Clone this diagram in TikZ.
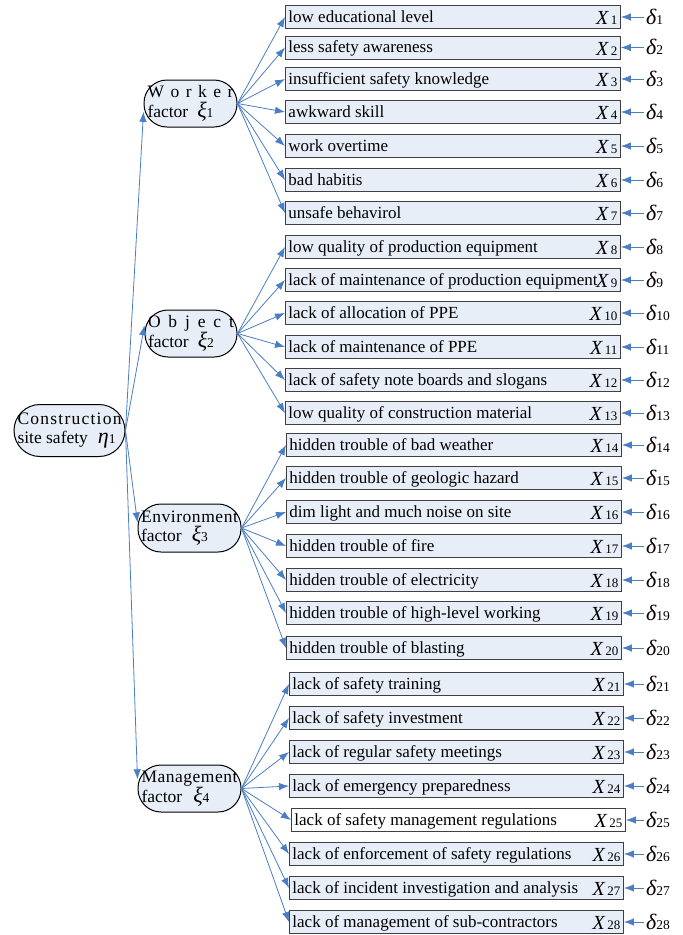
\documentclass[tikz,border=0pt]{standalone}
\usepackage{fontspec}
\setmainfont{Liberation Serif}
\usetikzlibrary{arrows.meta,calc}
\definecolor{boxfill}{HTML}{E8EEF8}
\definecolor{arr}{HTML}{4A7EC4}
\newcommand\xlab[1]{\raisebox{-2.5pt}{{\fontsize{20}{20}\selectfont\itshape X}\hspace{2.5pt}{\fontsize{13}{13}\selectfont #1}}}
\newcommand\dlab[1]{{\fontsize{22}{22}\selectfont\itshape δ}{\fontsize{13.5}{13.5}\selectfont #1}}
\newcommand\gsym[2]{{\fontsize{22}{22}\selectfont\itshape #1}{\fontsize{13.5}{13.5}\selectfont #2}}
\tikzset{
 itembox/.style={draw=black!75, line width=0.9pt, fill=boxfill, rectangle, minimum height=23pt, inner xsep=3pt, inner ysep=0pt, text height=11pt, text depth=1pt, anchor=west, font=\fontsize{17}{18}\selectfont},
 factorbox/.style={draw=black, line width=1pt, fill=boxfill, rectangle, rounded corners=23pt, inner sep=0pt, align=left, font=\fontsize{17.5}{19.5}\selectfont},
 link/.style={draw=arr, line width=0.8pt, -{Latex[length=10pt,width=7.5pt]}},
 dnode/.style={anchor=base west, inner sep=0pt},
}
\begin{document}
\begin{tikzpicture}[x=1pt,y=-1pt]
\useasboundingbox (0,0) rectangle (683,935);
% root and factors
\node[factorbox, minimum width=111pt, minimum height=52pt, rounded corners=26pt] (root) at (69.5,430.5)
 {\makebox[104pt]{C\hfill o\hfill n\hfill s\hfill t\hfill r\hfill u\hfill c\hfill t\hfill i\hfill o\hfill n}\\site safety\hspace{10pt}\gsym{η}{1}};
\node[factorbox, minimum width=93pt, minimum height=47pt] (worker) at (190.5,103.5)
 {\makebox[86pt][s]{W o r k e r}\\factor\hspace{9pt}\gsym{ξ}{1}};
\node[factorbox, minimum width=92pt, minimum height=47pt] (object) at (191,333.5)
 {\makebox[86pt][s]{O b j e c t}\\factor\hspace{9pt}\gsym{ξ}{2}};
\node[factorbox, minimum width=103pt, minimum height=48pt] (env) at (189.5,528)
 {\makebox[97pt]{E\hfill n\hfill v\hfill i\hfill r\hfill o\hfill n\hfill m\hfill e\hfill n\hfill t}\\factor\hspace{10pt}\gsym{ξ}{3}};
\node[factorbox, minimum width=103pt, minimum height=47pt] (mgmt) at (189.5,788.5)
 {\makebox[96pt]{M\hfill a\hfill n\hfill a\hfill g\hfill e\hfill m\hfill e\hfill n\hfill t}\\factor\hspace{11pt}\gsym{ξ}{4}};
\draw[link] (root.east) -- (worker.190);
\draw[link] (root.east) -- (object.170);
\draw[link] (root.east) -- (env.174);
\draw[link] (root.east) -- (mgmt.170);
% items
\foreach \i/\y/\t in {1/17/low educational level, 2/47.5/less safety awareness, 3/79/insufficient safety knowledge, 4/112/awkward skill, 5/146/work overtime, 6/180/bad habitis, 7/213/unsafe behavirol}{
 \node[itembox, minimum width=335pt] (b\i) at (285,\y) {\makebox[329pt]{\rlap{\t}\hfill\xlab{\i}}};
 \draw[link] (worker.east) -- (b\i.west);
}
\foreach \i/\y/\t in {8/247/low quality of production equipment, 9/280/lack of maintenance of production equipment, 10/313/lack of allocation of PPE, 11/347/lack of maintenance of PPE, 12/380/lack of safety note boards and slogans, 13/413/low quality of construction material}{
 \node[itembox, minimum width=335pt] (b\i) at (285,\y) {\makebox[329pt]{\rlap{\t}\hfill\xlab{\i}}};
 \draw[link] (object.east) -- (b\i.west);
}
\foreach \i/\y/\t in {14/445/hidden trouble of bad weather, 15/478/hidden trouble of geologic hazard, 16/512/dim light and much noise on site, 17/546/hidden trouble of fire, 18/580/hidden trouble of electricity, 19/613/hidden trouble of high-level working, 20/648/hidden trouble of blasting}{
 \node[itembox, minimum width=335pt] (b\i) at (286,\y) {\makebox[329pt]{\rlap{\t}\hfill\xlab{\i}}};
 \draw[link] (env.east) -- (b\i.west);
}
\foreach \i/\y/\t/\xl/\fc in {21/684/lack of safety training/289/boxfill, 22/718/lack of safety investment/289/boxfill, 23/752/lack of regular safety meetings/289/boxfill, 24/786/lack of emergency preparedness/289/boxfill, 25/820/lack of safety management regulations/291/white, 26/854/lack of enforcement of safety regulations/289/boxfill, 27/888/lack of incident investigation and analysis/289/boxfill, 28/922/lack of management of sub-contractors/289/boxfill}{
 \node[itembox, minimum width=334pt, fill=\fc] (b\i) at (\xl,\y) {\makebox[328pt]{\rlap{\t}\hfill\xlab{\i}}};
 \draw[link] (mgmt.east) -- (b\i.west);
}
% deltas
\foreach \i/\y in {1/17, 2/47.5, 3/79, 4/112, 5/146, 6/180, 7/213, 8/247, 9/280, 10/313, 11/347, 12/380, 13/413, 14/445, 15/478, 16/512, 17/546, 18/580, 19/613, 20/648, 21/684, 22/718, 23/752, 24/786, 25/820, 26/854, 27/888, 28/922}{
 \node[dnode] (d\i) at (646,\y+7) {\dlab{\i}};
 \draw[link] ([xshift=-2pt]d\i.west |- b\i.east) -- (b\i.east);
}
\end{tikzpicture}
\end{document}
